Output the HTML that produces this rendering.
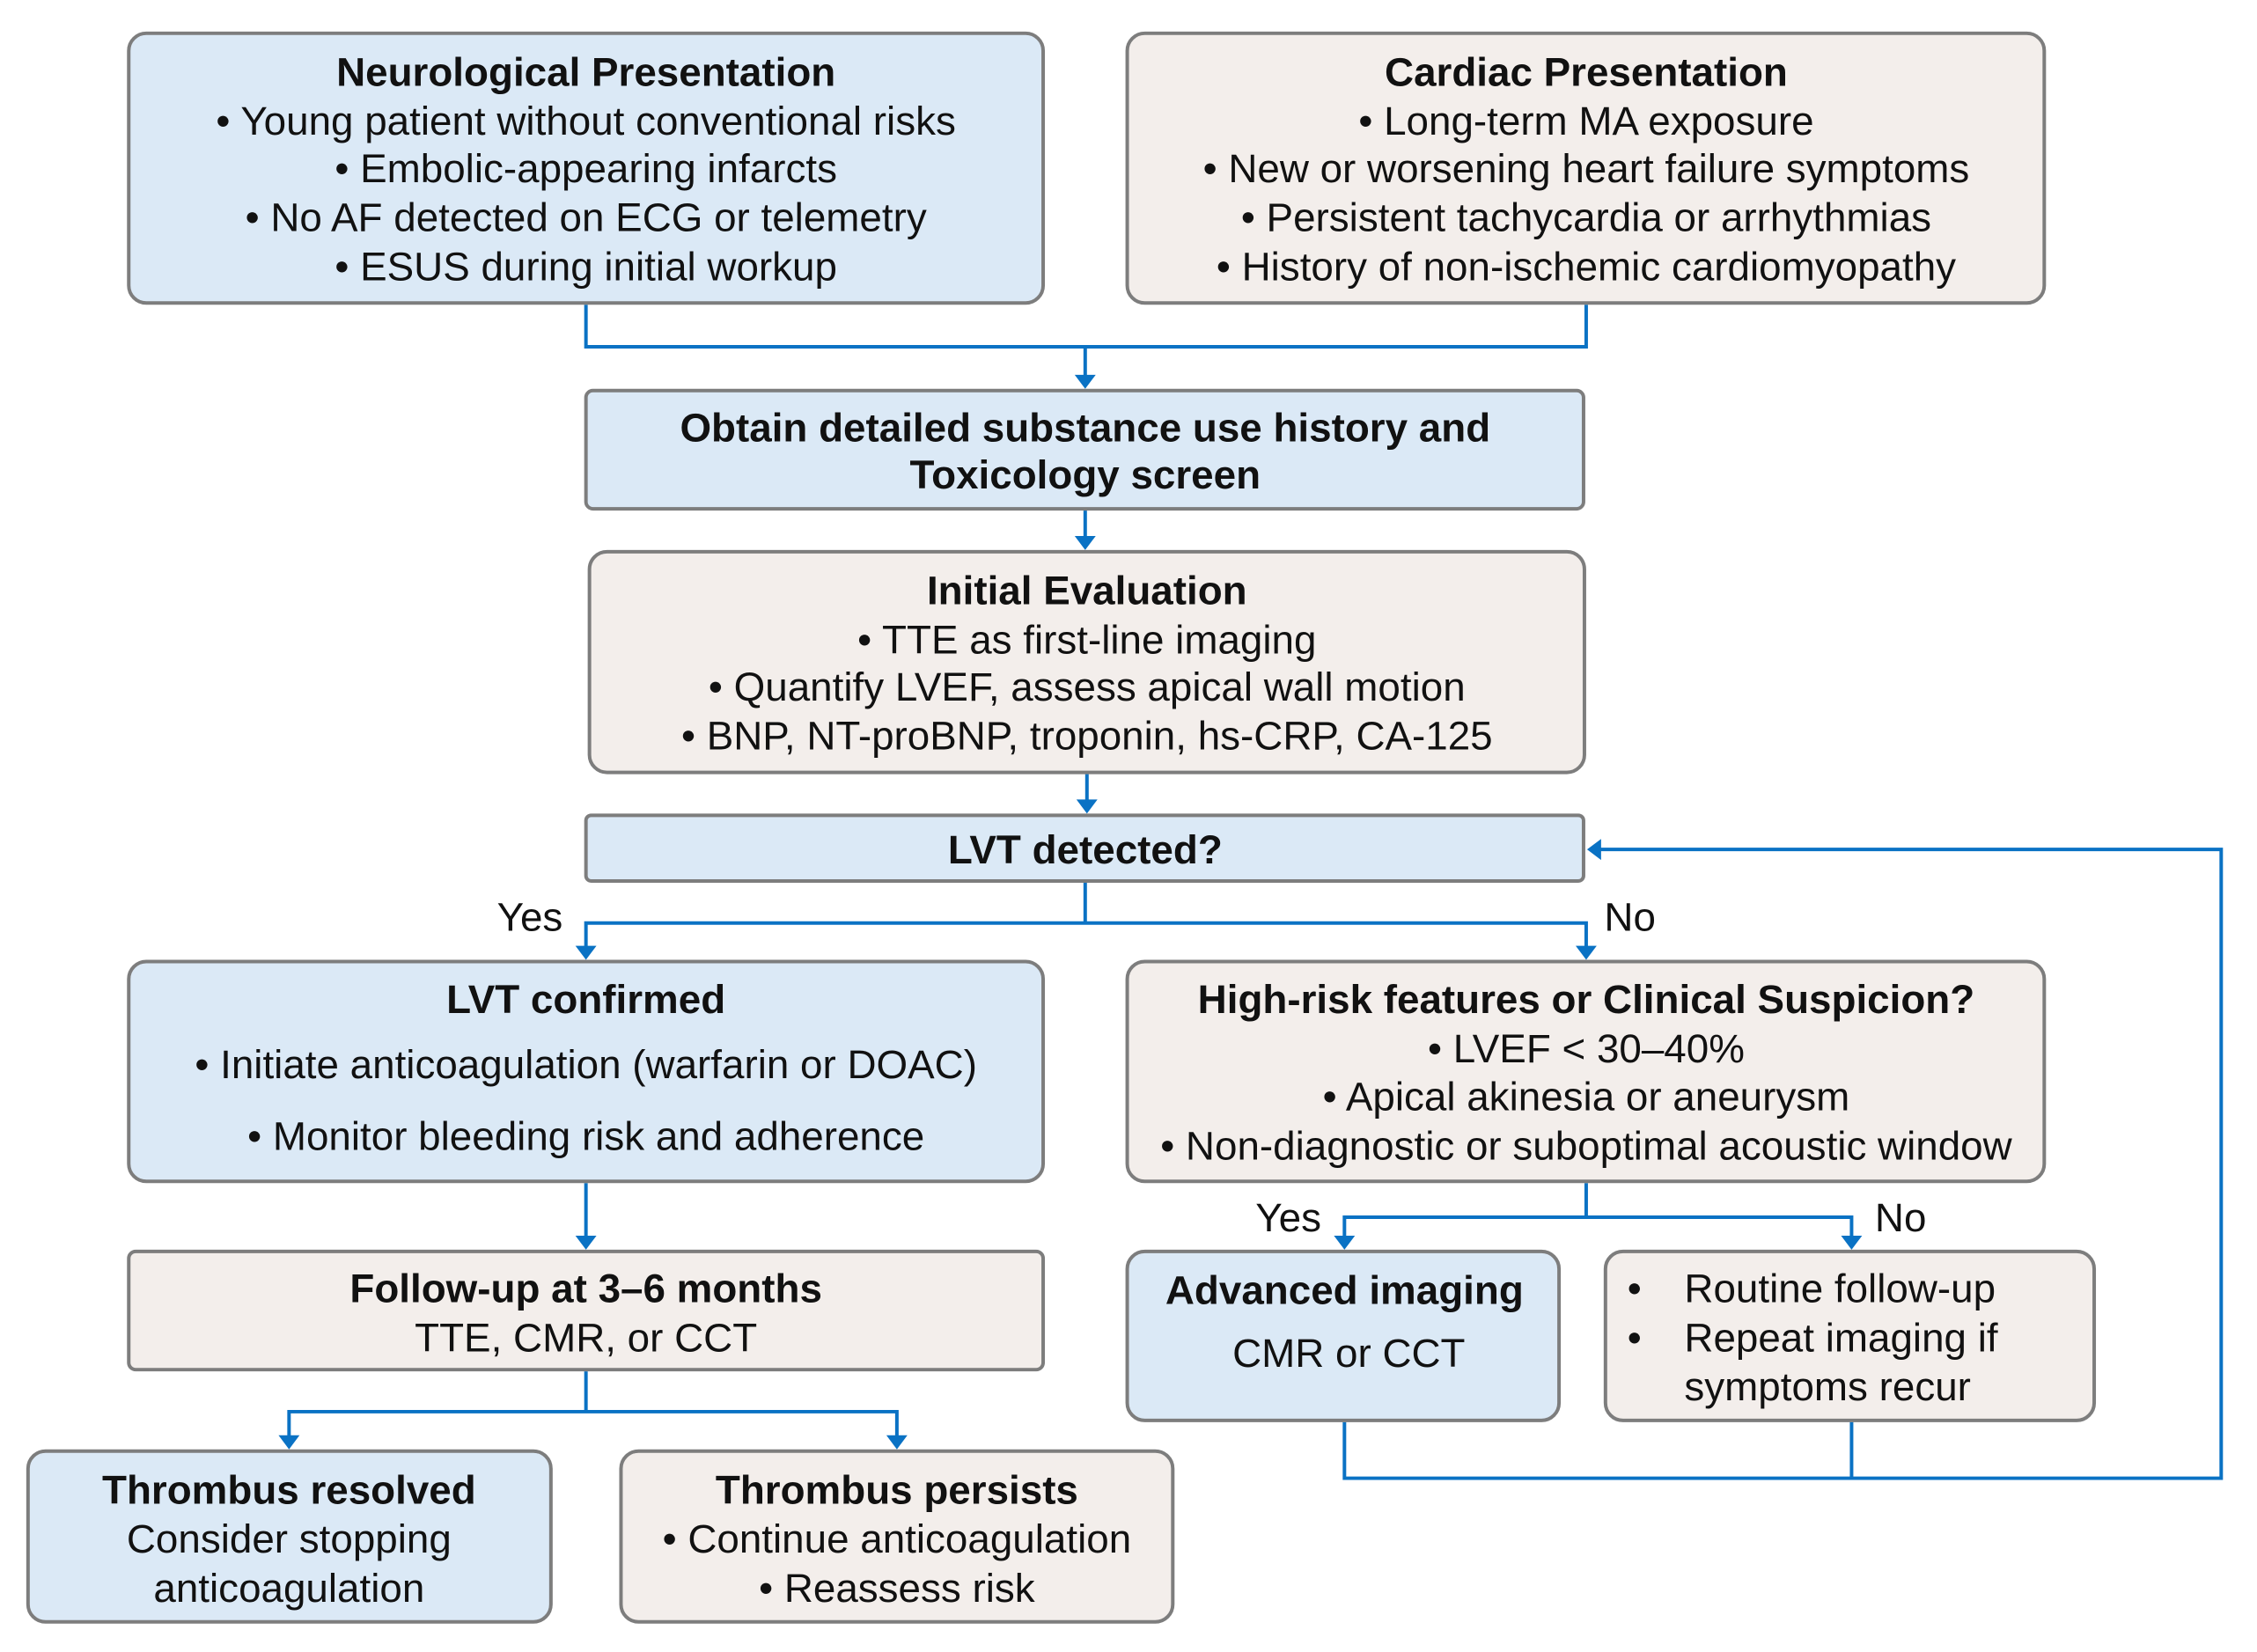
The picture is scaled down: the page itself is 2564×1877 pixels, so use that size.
<!DOCTYPE html>
<html><head><meta charset="utf-8"><style>
body{margin:0;width:2564px;height:1877px;background:#fff;position:relative;overflow:hidden;font-family:"Liberation Sans",Arial,sans-serif;color:#111}
#w{position:absolute;left:0;top:0;width:2564px;height:1877px;transform:scale(0.995);transform-origin:0 0}
.b{position:absolute;box-sizing:border-box;border:4px solid #7d7d7d;border-radius:22px}
.bl{background:#dbe9f6}.be{background:#f3eeeb}
.t{position:absolute;transform:translate(-50%,-50%);white-space:nowrap;font-size:46px;line-height:1}
.h{font-weight:bold}
.l{position:absolute;transform:translate(0,-50%);white-space:nowrap;font-size:46px;line-height:1}
</style></head><body><div id="w">
<svg width="2564" height="1877" style="position:absolute;left:0;top:0">
<g stroke="#0a72c4" stroke-width="4" fill="none">
<polyline points="669,348 669,396 1811,396 1811,348"/>
<line x1="1239" y1="396" x2="1239" y2="430"/>
<line x1="1239" y1="583" x2="1239" y2="614"/>
<line x1="1241" y1="884" x2="1241" y2="915"/>
<line x1="1239" y1="1008" x2="1239" y2="1054"/>
<polyline points="669,1082 669,1054 1811,1054 1811,1082"/>
<line x1="669" y1="1351" x2="669" y2="1413"/>
<line x1="669" y1="1566" x2="669" y2="1612"/>
<polyline points="330,1641 330,1612 1024,1612 1024,1641"/>
<line x1="1811" y1="1351" x2="1811" y2="1390"/>
<polyline points="1535,1413 1535,1390 2114,1390 2114,1413"/>
<polyline points="1535,1624 1535,1688 2536,1688 2536,970 1826,970"/>
<line x1="2114" y1="1624" x2="2114" y2="1688"/>
</g>
<g fill="#0a72c4">
<polygon points="1227,428 1251,428 1239,444"/>
<polygon points="1227,612 1251,612 1239,628"/>
<polygon points="1229,913 1253,913 1241,929"/>
<polygon points="657,1080 681,1080 669,1096"/>
<polygon points="1799,1080 1823,1080 1811,1096"/>
<polygon points="657,1411 681,1411 669,1427"/>
<polygon points="318,1639 342,1639 330,1655"/>
<polygon points="1012,1639 1036,1639 1024,1655"/>
<polygon points="1523,1411 1547,1411 1535,1427"/>
<polygon points="2102,1411 2126,1411 2114,1427"/>
<polygon points="1828,958 1828,982 1812,970"/>
</g>
</svg>
<div class="b bl" style="left:145px;top:36px;width:1048px;height:312px"></div>
<div class="b be" style="left:1285px;top:36px;width:1051px;height:312px"></div>
<div class="b bl" style="left:667px;top:444px;width:1143px;height:139px;border-radius:10px"></div>
<div class="b be" style="left:671px;top:628px;width:1140px;height:256px"></div>
<div class="b bl" style="left:667px;top:929px;width:1143px;height:79px;border-radius:8px"></div>
<div class="b bl" style="left:145px;top:1096px;width:1048px;height:255px"></div>
<div class="b be" style="left:1285px;top:1096px;width:1051px;height:255px"></div>
<div class="b be" style="left:145px;top:1427px;width:1048px;height:139px;border-radius:10px"></div>
<div class="b bl" style="left:1285px;top:1427px;width:497px;height:197px"></div>
<div class="b be" style="left:1831px;top:1427px;width:562px;height:197px"></div>
<div class="b bl" style="left:30px;top:1655px;width:601px;height:199px"></div>
<div class="b be" style="left:707px;top:1655px;width:634px;height:199px"></div>

<div class="t h" style="left:669px;top:82px">Neurological Presentation</div>
<div class="t" style="left:669px;top:138px">• Young patient without conventional risks</div>
<div class="t" style="left:669px;top:192px">• Embolic-appearing infarcts</div>
<div class="t" style="left:669px;top:248px">• No AF detected on ECG or telemetry</div>
<div class="t" style="left:669px;top:304px">• ESUS during initial workup</div>

<div class="t h" style="left:1811px;top:82px">Cardiac Presentation</div>
<div class="t" style="left:1811px;top:138px">• Long-term MA exposure</div>
<div class="t" style="left:1811px;top:192px">• New or worsening heart failure symptoms</div>
<div class="t" style="left:1811px;top:248px">• Persistent tachycardia or arrhythmias</div>
<div class="t" style="left:1811px;top:304px">• History of non-ischemic cardiomyopathy</div>

<div class="t h" style="left:1239px;top:488px">Obtain detailed substance use history and</div>
<div class="t h" style="left:1239px;top:542px">Toxicology screen</div>

<div class="t h" style="left:1241px;top:674px">Initial Evaluation</div>
<div class="t" style="left:1241px;top:730px">• TTE as first-line imaging</div>
<div class="t" style="left:1241px;top:784px">• Quantify LVEF, assess apical wall motion</div>
<div class="t" style="left:1241px;top:840px">• BNP, NT-proBNP, troponin, hs-CRP, CA-125</div>

<div class="t h" style="left:1239px;top:970px">LVT detected?</div>
<div class="t" style="left:605px;top:1047px">Yes</div>
<div class="t" style="left:1861px;top:1047px">No</div>

<div class="t h" style="left:669px;top:1141px">LVT confirmed</div>
<div class="t" style="left:669px;top:1215px">• Initiate anticoagulation (warfarin or DOAC)</div>
<div class="t" style="left:669px;top:1297px">• Monitor bleeding risk and adherence</div>

<div class="t h" style="left:1811px;top:1141px">High-risk features or Clinical Suspicion?</div>
<div class="t" style="left:1811px;top:1197px">• LVEF &lt; 30–40%</div>
<div class="t" style="left:1811px;top:1252px">• Apical akinesia or aneurysm</div>
<div class="t" style="left:1811px;top:1308px">• Non-diagnostic or suboptimal acoustic window</div>

<div class="t h" style="left:669px;top:1471px">Follow-up at 3–6 months</div>
<div class="t" style="left:669px;top:1527px">TTE, CMR, or CCT</div>

<div class="t" style="left:1471px;top:1390px">Yes</div>
<div class="t" style="left:2170px;top:1390px">No</div>

<div class="t h" style="left:1535px;top:1473px">Advanced imaging</div>
<div class="t" style="left:1540px;top:1545px">CMR or CCT</div>

<div class="l" style="left:1858px;top:1471px">•</div>
<div class="l" style="left:1923px;top:1471px">Routine follow-up</div>
<div class="l" style="left:1858px;top:1527px">•</div>
<div class="l" style="left:1923px;top:1527px">Repeat imaging if</div>
<div class="l" style="left:1923px;top:1583px">symptoms recur</div>

<div class="t h" style="left:330px;top:1701px">Thrombus resolved</div>
<div class="t" style="left:330px;top:1757px">Consider stopping</div>
<div class="t" style="left:330px;top:1813px">anticoagulation</div>

<div class="t h" style="left:1024px;top:1701px">Thrombus persists</div>
<div class="t" style="left:1024px;top:1757px">• Continue anticoagulation</div>
<div class="t" style="left:1024px;top:1813px">• Reassess risk</div>
</div></body></html>
